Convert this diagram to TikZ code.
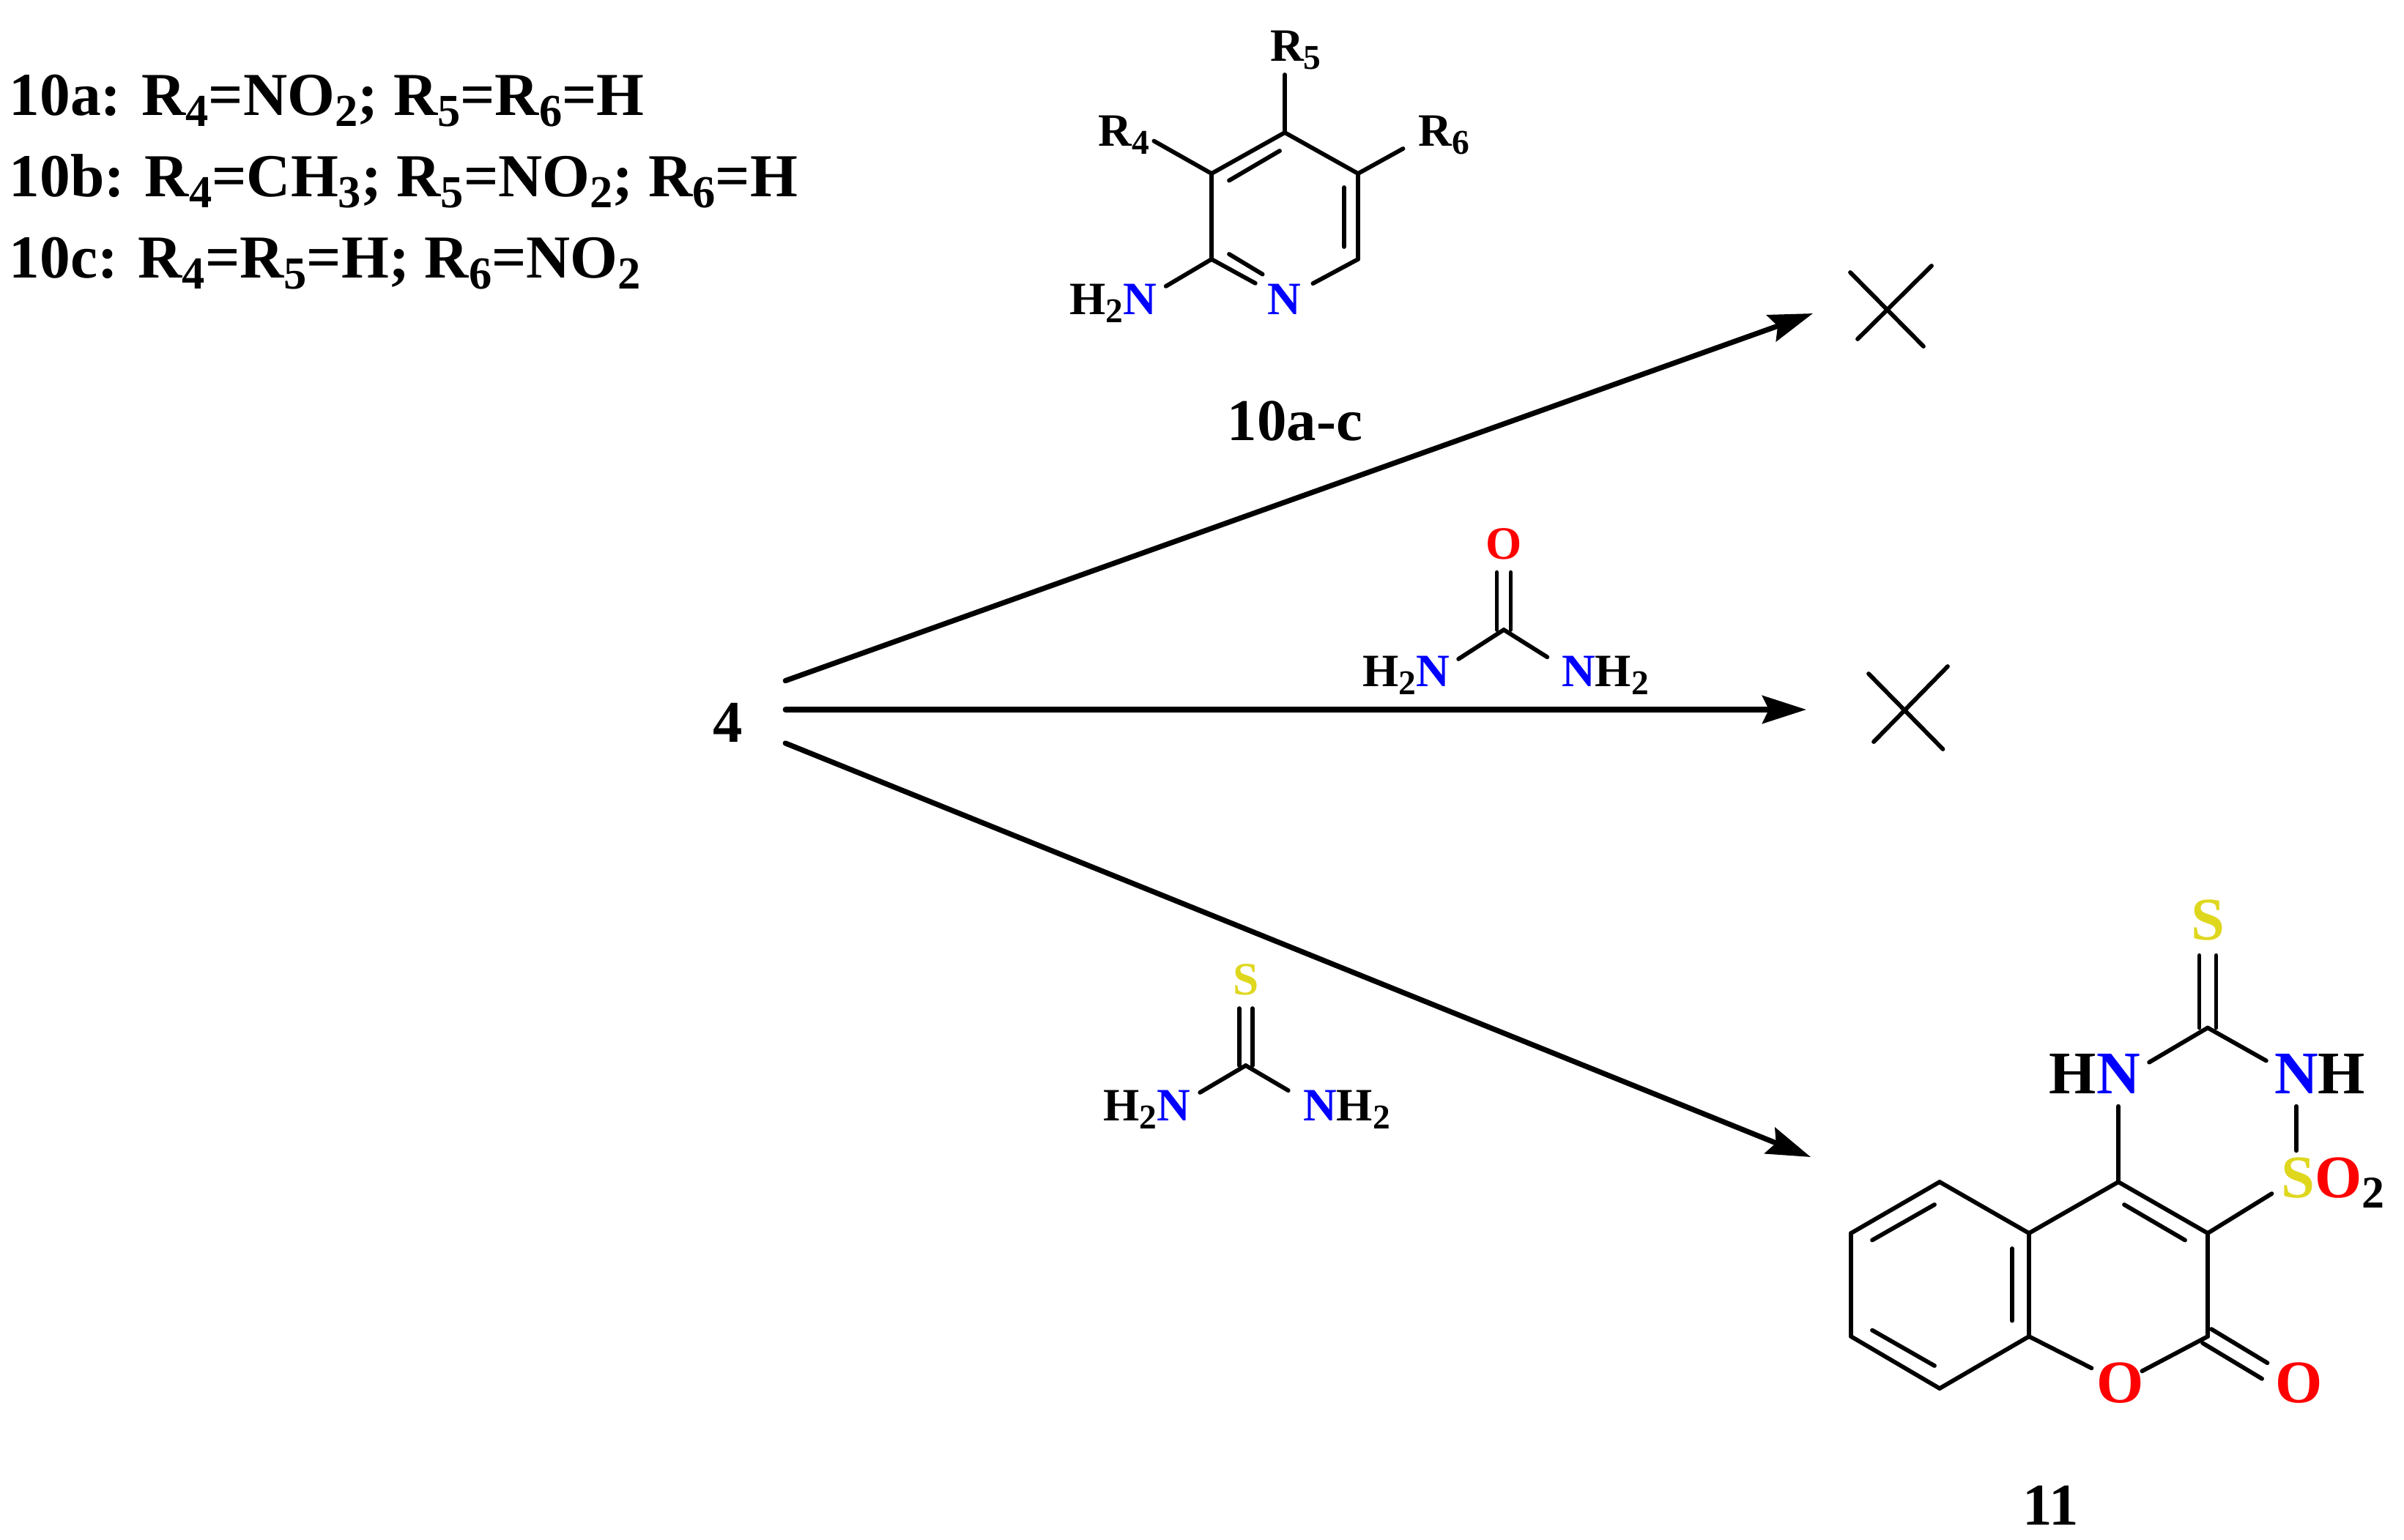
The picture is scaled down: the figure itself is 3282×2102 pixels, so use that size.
\documentclass[tikz,border=0pt]{standalone}
\usepackage{fontspec}
\usepackage{graphicx}
\setmainfont{Liberation Serif}
\usetikzlibrary{arrows.meta}
\definecolor{nblue}{RGB}{0,0,255}
\definecolor{ored}{RGB}{255,0,0}
\definecolor{syellow}{RGB}{223,215,30}
\newcommand{\chemsub}[1]{\raisebox{-.18em}[0pt][0pt]{\scalebox{.75}{#1}}}
\tikzset{
  atomsmall/.style={circle,inner sep=0pt,anchor=base,font=\fontsize{18}{18}\selectfont\bfseries},
  atombig/.style={circle,inner sep=0pt,anchor=base,font=\fontsize{23.5}{23.5}\selectfont\bfseries},
  titlelabel/.style={inner sep=0pt,anchor=base,font=\fontsize{23}{23}\selectfont\bfseries},
  legendline/.style={inner sep=0pt,anchor=base west,font=\fontsize{23.7}{23.7}\selectfont\bfseries},
  bond/.style={line width=.058cm,line cap=round},
  reaction/.style={line width=.072cm,line cap=round,-{Stealth[length=.6cm,width=.38cm,inset=.09cm]}}
}
\begin{document}
\begin{tikzpicture}[x=.01cm,y=-.01cm]
      \useasboundingbox (0,0) rectangle (3282,2102);
      \draw
        (12,157) node[legendline] (legenda){10a: R\chemsub{4}=NO\chemsub{2}; R\chemsub{5}=R\chemsub{6}=H}
        (12,268) node[legendline] (legendb){10b: R\chemsub{4}=CH\chemsub{3}; R\chemsub{5}=NO\chemsub{2}; R\chemsub{6}=H}
        (12,379) node[legendline] (legendc){10c: R\chemsub{4}=R\chemsub{5}=H; R\chemsub{6}=NO\chemsub{2}}
        (1768,601) node[titlelabel] (title10){10a-c}
        (2800,2082) node[titlelabel] (title11){11}
        (994,1013) node[titlelabel,minimum width=1.55cm,minimum height=1.4cm] (start4){4};
      \draw
        (1654,354) coordinate (py2)
        (1654,237) coordinate (py3)
        (1754,181) coordinate (py4)
        (1854,237) coordinate (py5)
        (1854,354) coordinate (py6)
        (1753,429) node[atomsmall,minimum size=.88cm] (pyn){\textcolor{nblue}{N}}
        (1556,429) node[atomsmall,minimum size=.78cm] (pynh){\llap{H\chemsub{2}}\textcolor{nblue}{N}}
        (1534,199) node[atomsmall,minimum size=.86cm] (pyrf){R\chemsub{4}}
        (1757,83) node[atomsmall,minimum size=.78cm] (pyrg){R\rlap{\chemsub{5}}}
        (1971,199) node[atomsmall,minimum size=1.2cm] (pyrh){R\chemsub{6}};
      \begin{scope}[bond]
        \draw (py2) to (py3);
        \draw (py3) to (py4);
        \draw (py4) to (py5);
        \draw (py5) to (py6);
        \draw (py6) to (pyn);
        \draw (py2) to (pyn);
        \draw ([shift={(24,9.5)}]py3) to ([shift={(-7,25)}]py4);
        \draw ([shift={(-19,19)}]py5) to ([shift={(-19,-17)}]py6);
        \draw ([shift={(24,-7)}]py2) to (pyn.131);
        \draw (py2) to (pynh.26);
        \draw (py3) to (pyrf.-19);
        \draw (py4) to (py4 |- pyrg.south);
        \draw (py5) to (pyrh.204);
      \end{scope}
      \draw
        (2053,860) coordinate (urc)
        (2053,763) node[atomsmall,minimum size=.77cm] (uro){\textcolor{ored}{O}}
        (1956,937) node[atomsmall,minimum size=.76cm] (urna){\llap{H\chemsub{2}}\textcolor{nblue}{N}}
        (2155,937) node[atomsmall,minimum size=.92cm] (urnb){\textcolor{nblue}{N}\rlap{H\chemsub{2}}};
      \begin{scope}[bond]
        \draw ([shift={(-9.5,0)}]uro.south) to ([shift={(-9.5,0)}]urc);
        \draw ([shift={(9.5,0)}]uro.south) to ([shift={(9.5,0)}]urc);
        \draw (urc) to (urna.25);
        \draw (urc) to (urnb.156);
      \end{scope}
      \draw
        (1700.7,1455) coordinate (thc)
        (1700.7,1358) node[atomsmall,minimum size=.78cm] (ths){\textcolor{syellow}{S}}
        (1602.5,1530) node[atomsmall,minimum size=.78cm] (thna){\llap{H\chemsub{2}}\textcolor{nblue}{N}}
        (1802,1530) node[atomsmall,minimum size=.94cm] (thnb){\textcolor{nblue}{N}\rlap{H\chemsub{2}}};
      \begin{scope}[bond]
        \draw ([shift={(-9,0)}]ths.south) to ([shift={(-9,0)}]thc);
        \draw ([shift={(9,0)}]ths.south) to ([shift={(9,0)}]thc);
        \draw (thc) to (thna.26);
        \draw (thc) to (thnb.155);
      \end{scope}
      \draw
        (2648,1614) coordinate (cma)
        (2527,1684) coordinate (cmb)
        (2527,1825) coordinate (cmc)
        (2648,1896) coordinate (cmd)
        (2770,1825) coordinate (cme)
        (2770,1684) coordinate (cmf)
        (2892,1614) coordinate (cmg)
        (3014,1684) coordinate (cmh)
        (3014,1825) coordinate (cmi)
        (3014,1403.5) coordinate (cmk)
        (2894.5,1915) node[atombig,minimum size=.86cm] (cmoa){\textcolor{ored}{O}}
        (3138.5,1915) node[atombig,minimum size=1cm] (cmob){\textcolor{ored}{O}}
        (2892,1493) node[atombig,minimum size=.88cm] (cmna){\llap{H}\textcolor{nblue}{N}}
        (3135,1493) node[atombig,minimum size=.88cm] (cmnb){\textcolor{nblue}{N}\rlap{H}}
        (3014,1283) node[atombig,minimum size=.96cm] (cmsa){\textcolor{syellow}{S}}
        (3137,1635) node[atombig] (cmsb){\textcolor{syellow}{S}\rlap{\textcolor{ored}{O}\chemsub{2}}};
      \begin{scope}[bond]
        \draw (cma) to (cmb);
        \draw (cmb) to (cmc);
        \draw (cmc) to (cmd);
        \draw (cmd) to (cme);
        \draw (cme) to (cmf);
        \draw (cmf) to (cma);
        \draw (cmf) to (cmg);
        \draw (cmg) to (cmh);
        \draw (cmh) to (cmi);
        \draw ([shift={(-7,31)}]cma) to ([shift={(29,9.5)}]cmb);
        \draw ([shift={(29,-8.5)}]cmc) to ([shift={(-7,-31)}]cmd);
        \draw ([shift={(-23,21)}]cmf) to ([shift={(-23,-21.5)}]cme);
        \draw ([shift={(8,31)}]cmg) to ([shift={(-31,9.5)}]cmh);
        \draw (cme) to (cmoa);
        \draw[shorten >=-.1cm] (cmi) to (cmoa);
        \draw ([shift={(5,-10)}]cmi) to (cmob.148);
        \draw ([shift={(-7,9)}]cmi) to (cmob.174);
        \draw (cmg) to (cmna);
        \draw (cmk) to (cmna.20);
        \draw (cmk) to (cmnb.157);
        \draw (cmnb.south) to (cmnb.south |- cmsb.north);
        \draw[shorten >=.05cm] (cmh) to (cmsb);
        \draw ([shift={(-11.5,0)}]cmsa.south) to ([shift={(-11.5,0)}]cmk);
        \draw ([shift={(11.5,0)}]cmsa.south) to ([shift={(11.5,0)}]cmk);
      \end{scope}
      \coordinate (tipa) at (2475,428);
      \coordinate (tipb) at (2466,969);
      \coordinate (tipc) at (2472,1580);
      \begin{scope}[reaction]
        \draw (start4.36.3) to (tipa);
        \draw (start4.east |- tipb) to (tipb);
        \draw (start4.-20.4) to (tipc);
      \end{scope}
      \coordinate (crossa) at (2526,372);
      \coordinate (crossb) at (2626,473);
      \coordinate (crossc) at (2637,363);
      \coordinate (crossd) at (2536,463);
      \coordinate (crosse) at (2551,920);
      \coordinate (crossf) at (2652.5,1023);
      \coordinate (crossg) at (2659,910);
      \coordinate (crossh) at (2558,1013);
      \begin{scope}[bond]
        \draw (crossa) to (crossb);
        \draw (crossc) to (crossd);
        \draw (crosse) to (crossf);
        \draw (crossg) to (crossh);
      \end{scope}
    \end{tikzpicture}
\end{document}
